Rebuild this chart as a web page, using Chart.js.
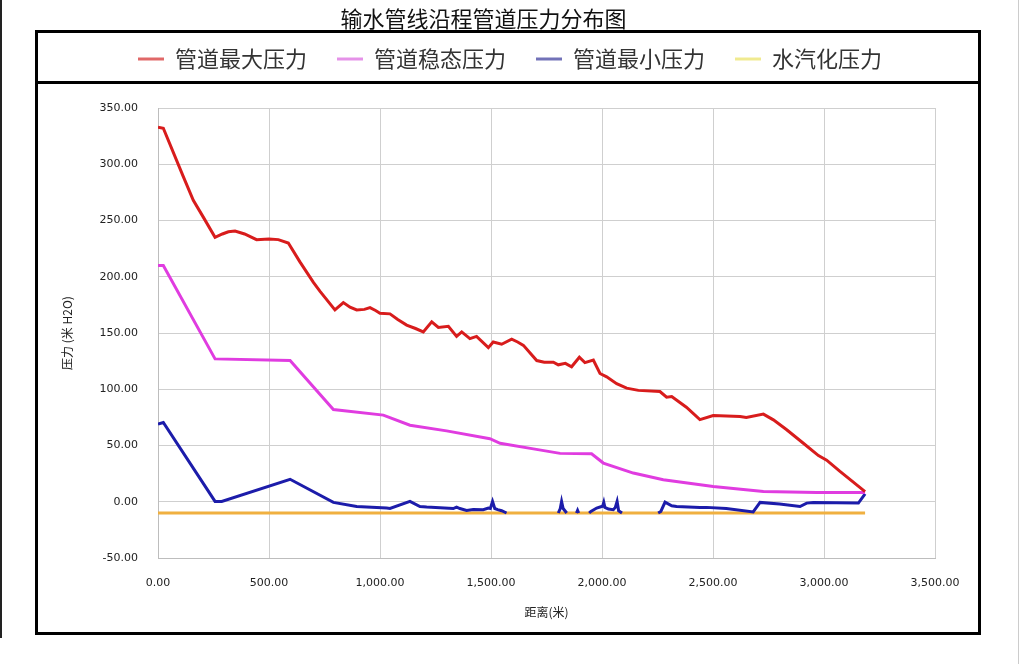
<!DOCTYPE html>
<html lang="zh">
<head>
<meta charset="UTF-8">
<title>输水管线沿程管道压力分布图</title>
<script src="https://cdn.jsdelivr.net/npm/chart.js@4.4.2/dist/chart.umd.min.js"></script>
<style>
  body {
    margin: 0;
    background: #fff;
    width: 1020px;
    height: 664px;
    position: relative;
    overflow: hidden;}
  #chart {
    position: absolute;
    left: 0;
    top: 0;}
  .title {
    position: absolute;
    left: 0;
    top: 4px;
    width: 967px;
    text-align: center;
    font-family: 'Noto Sans CJK SC', sans-serif;
    font-size: 22px;
    line-height: 26px;
    color: #111;}
  .frame {
    position: absolute;
    left: 35px;
    top: 30px;
    width: 946px;
    height: 605px;
    box-sizing: border-box;
    border: 3px solid #000;
    pointer-events: none;}
  .sep {
    position: absolute;
    left: 35px;
    top: 81px;
    width: 946px;
    height: 3px;
    background: #000;}
  .edge-l {
    position: absolute;
    left: 0;
    top: 0;
    width: 2px;
    height: 638px;
    background: #222;}
  .edge-r {
    position: absolute;
    left: 1018px;
    top: 0;
    width: 1px;
    height: 664px;
    background: #ccc;}
</style>
</head>
<body>
<canvas id="chart" width="1020" height="664"></canvas>
<div class="title">输水管线沿程管道压力分布图</div>
<div class="frame"></div>
<div class="sep"></div>
<div class="edge-l"></div>
<div class="edge-r"></div>

<script>
// series names (legend order)
const seriesNames = ['管道最大压力', '管道稳态压力', '管道最小压力', '水汽化压力'];
const lineColors = ['#d81c1c', '#e03ce0', '#1c1caa', '#f0b040'];
const legendColors = ['#e06868', '#e592e8', '#7272b8', '#f0ea90'];

// 管道最大压力
const maxDist = [0,24,114,159,204,257,290,317,347,390,444,500,542,587,640,700,730,797,835,865,
  895,930,955,980,1000,1045,1080,1120,1160,1195,1233,1263,1308,1345,1368,1405,1435,1488,1510,1548,
  1593,1620,1646,1706,1740,1781,1803,1835,1863,1898,1923,1961,1991,2021,2066,2111,2164,2261,2291,2314,
  2380,2441,2501,2622,2650,2727,2772,2832,2907,2975,3012,3072,3185];
const maxPress = [333,332,289,268,253,235,238,240,240.7,238,233,233.5,233,230,213,195,187,170.5,177,173,
  170.5,171,172.6,170,167.6,167,162,157,154,151,160,155,156,147,151,145,147,137,142,140,
  144.5,142,139,125.5,124,124,121.7,123,120,128.5,123.7,126,114,111,105,101,99,98,93,93.5,
  84,73,76.6,75.8,75,77.9,72.8,64,52,41,37,27,9];

// 管道稳态压力
const steadyDist = [0,24,257,595,790,1015,1135,1300,1495,1541,1691,1811,1953,2006,2141,2276,2501,2727,2967,3185];
const steadyPress = [210,210,127,125.5,82,77,68,63,56,52,47,43,42.6,34.4,25.5,19.5,13.6,9.2,8.3,8.3];

// 管道最小压力 (null = hidden under the vapour line)
const minDist = [0,24,257,287,595,790,895,1030,1045,1135,1180,1210,1330,1345,1360,1390,1420,1465,1488,1497,
  1507,1517,1530,1548,1570,1575,1803,1812,1818,1825,1841,1845,1885,1890,1895,1900,1942,1950,1976,1995,
  2003,2008,2013,2029,2051,2060,2068,2075,2090,2100,2253,2265,2284,2314,2336,2441,2471,2560,2681,2712,
  2800,2892,2922,2952,3155,3185];
const minPress = [69,70.4,0.3,0.3,20,-0.6,-4.2,-5.6,-6,0.3,-4.2,-4.7,-6,-4.7,-6,-7.7,-7,-7.1,-5.6,-6,
  0.3,-6,-7,-8,-10,null,-10,-6,0.3,-6,-10,null,-10,-7.7,-10,null,-10,-8.6,-5.6,-4.5,
  -4,-0.5,-5,-6.5,-7,-5,0.3,-8,-10,null,-10,-8.6,-0.3,-3.6,-4.2,-5,-5,-6,-9,-0.6,
  -2,-4.2,-1.2,-0.6,-1.2,7];

// 水汽化压力
const vapDist = [0, 3185];
const vapPress = [-10, -10];

// axes
const xMin = 0, xMax = 3500, xStep = 500;
const yMin = -50, yMax = 350, yStep = 50;

const CJK = "'Noto Sans CJK SC', 'DejaVu Sans', sans-serif";
Chart.defaults.font.family = "'DejaVu Sans', sans-serif";

function pts(xs, ys) {
    return xs.map((x, i) => ({x: x, y: ys[i]}));}

const allDist = [maxDist, steadyDist, minDist, vapDist];
const allPress = [maxPress, steadyPress, minPress, vapPress];

const datasets = seriesNames.map((name, i) => ({
    label: name,
    data: pts(allDist[i], allPress[i]),
    borderColor: lineColors[i],
    backgroundColor: lineColors[i],
    borderWidth: 3,
    pointRadius: 0,
    tension: 0,
    spanGaps: false,
    xAxisID: 'x',
    yAxisID: 'y'}));

new Chart(document.getElementById('chart').getContext('2d'), {
    type: 'line',
    data: {datasets: datasets},
    options: {
        responsive: false,
        animation: false,
        layout: {padding: {top: 18, left: 20, right: 20, bottom: 40}},
        plugins: {
            tooltip: {enabled: false},
            title: {display: false},
            legend: {
                position: 'top',
                align: 'center',
                labels: {
                    font: {family: CJK, size: 22},
                    color: '#333',
                    boxWidth: 26,
                    boxHeight: 3,
                    padding: 30,
                    generateLabels: function(chart) {
                        const items = Chart.defaults.plugins.legend.labels.generateLabels(chart);
                        items.forEach((it, i) => {
                            it.fillStyle = legendColors[i];
                            it.strokeStyle = legendColors[i];
                            it.lineWidth = 0;});
                        return items;}}}},
        scales: {
            x: {
                type: 'linear',
                min: xMin,
                max: xMax,
                ticks: {
                    stepSize: xStep,
                    padding: 19,
                    color: '#222',
                    font: {size: 11},
                    maxRotation: 0,
                    autoSkip: false,
                    callback: v => v.toLocaleString('en-US', {minimumFractionDigits: 2, maximumFractionDigits: 2})},
                grid: {color: '#cfcfcf', drawTicks: false},
                border: {color: '#bdbdbd'},
                title: {
                    display: true,
                    text: '距离(米)',
                    color: '#222',
                    font: {family: CJK, size: 12},
                    padding: {top: 4, bottom: 4}},
                afterFit: s => { s.height = 66; }},
            y: {
                type: 'linear',
                min: yMin,
                max: yMax,
                ticks: {
                    stepSize: yStep,
                    padding: 20,
                    color: '#222',
                    font: {size: 11},
                    callback: v => v.toFixed(2)},
                grid: {color: '#cfcfcf', drawTicks: false},
                border: {color: '#bdbdbd'},
                title: {
                    display: true,
                    text: '压力 (米 H2O)',
                    color: '#222',
                    font: {family: CJK, size: 12},
                    padding: {top: 40, bottom: 4}},
                afterFit: s => { s.width = 138; }},
            // spacers so the plot area sits where it does in the original
            topGap: {
                type: 'linear',
                axis: 'x',
                position: 'top',
                ticks: {display: false},
                grid: {display: false},
                border: {display: false},
                afterFit: s => { s.height = 28; }},
            rightGap: {
                type: 'linear',
                axis: 'y',
                position: 'right',
                ticks: {display: false},
                grid: {display: false},
                border: {display: false},
                afterFit: s => { s.width = 65; }}}}});
</script>
</body>
</html>
